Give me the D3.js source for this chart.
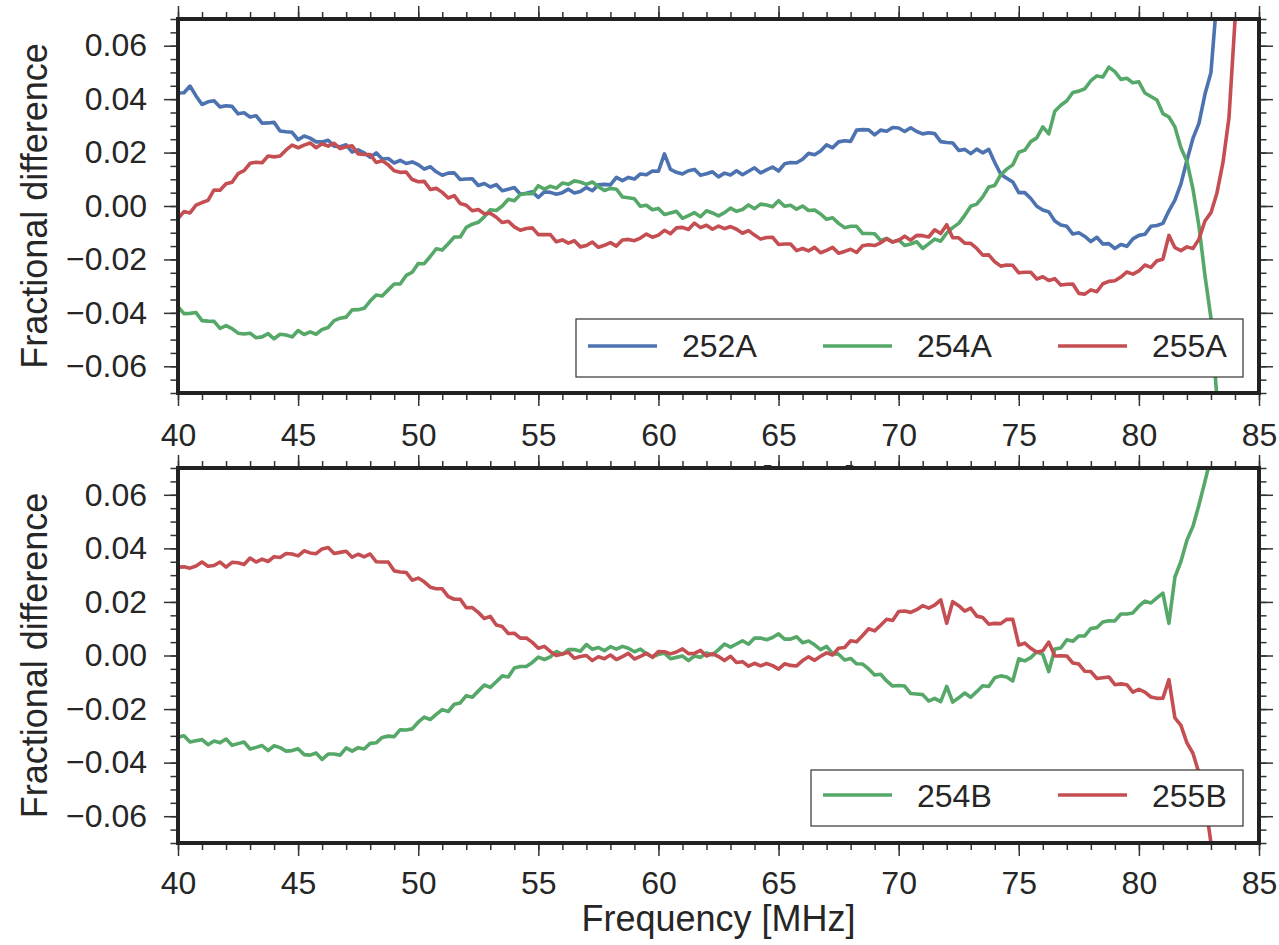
<!DOCTYPE html>
<html>
<head>
<meta charset="utf-8">
<script src="https://cdn.jsdelivr.net/npm/d3@7"></script>
<style>
  html, body { margin: 0; padding: 0; background: #fff; }
  svg { display: block; font-family: "Liberation Sans", Arial, Helvetica, sans-serif; }
</style>
</head>
<body>
<svg id="chart" width="1279" height="945"></svg>
<script>
// Frequency grid of the measurements [MHz]
const freq = [
  40,40.25,40.5,40.75,41,41.25,41.5,41.75,42,42.25,42.5,42.75,43,43.25,43.5,43.75,
  44,44.25,44.5,44.75,45,45.25,45.5,45.75,46,46.25,46.5,46.75,47,47.25,47.5,47.75,
  48,48.25,48.5,48.75,49,49.25,49.5,49.75,50,50.25,50.5,50.75,51,51.25,51.5,51.75,
  52,52.25,52.5,52.75,53,53.25,53.5,53.75,54,54.25,54.5,54.75,55,55.25,55.5,55.75,
  56,56.25,56.5,56.75,57,57.25,57.5,57.75,58,58.25,58.5,58.75,59,59.25,59.5,59.75,
  60,60.25,60.5,60.75,61,61.25,61.5,61.75,62,62.25,62.5,62.75,63,63.25,63.5,63.75,
  64,64.25,64.5,64.75,65,65.25,65.5,65.75,66,66.25,66.5,66.75,67,67.25,67.5,67.75,
  68,68.25,68.5,68.75,69,69.25,69.5,69.75,70,70.25,70.5,70.75,71,71.25,71.5,71.75,
  72,72.25,72.5,72.75,73,73.25,73.5,73.75,74,74.25,74.5,74.75,75,75.25,75.5,75.75,
  76,76.25,76.5,76.75,77,77.25,77.5,77.75,78,78.25,78.5,78.75,79,79.25,79.5,79.75,
  80,80.25,80.5,80.75,81,81.25,81.5,81.75,82,82.25,82.5,82.75,83,83.25,83.5,83.75,
  84,84.25
];

// Fractional differences, stored in units of 1e-4
const UNIT = 1e-4;

const diff252A = [
  423,424,449,412,380,390,394,371,375,373,
  345,349,333,338,310,311,313,281,278,276,
  248,262,254,240,240,246,224,222,229,202,
  210,199,182,199,176,178,161,171,159,165,
  155,138,147,128,115,123,124,99,101,102,
  77,84,71,80,57,63,69,44,48,53,
  32,53,51,44,50,63,49,54,69,57,
  79,81,79,107,95,107,101,120,117,131,
  130,195,137,126,120,132,137,115,121,128,
  109,123,116,132,117,130,143,124,135,146,
  131,158,163,162,175,197,192,206,229,218,
  240,244,242,284,286,285,266,284,280,294,
  292,279,293,279,270,274,271,241,238,236,
  208,212,196,213,199,212,163,119,104,90,
  50,50,28,-1,-15,-22,-56,-71,-76,-105,
  -100,-114,-133,-117,-142,-141,-159,-144,-151,-123,
  -110,-106,-76,-73,-65,-18,22,83,171,253,
  309,418,500,780
];

const diff254A = [
  -377,-403,-402,-399,-429,-431,-432,-458,-448,-459,
  -476,-479,-476,-493,-490,-478,-497,-480,-483,-490,
  -466,-481,-471,-480,-462,-455,-429,-420,-416,-389,
  -388,-383,-356,-333,-337,-314,-292,-292,-260,-248,
  -215,-216,-189,-160,-165,-141,-116,-116,-80,-68,
  -61,-41,-14,-17,0,25,20,43,47,46,
  76,63,74,67,86,81,94,90,81,90,
  72,58,66,63,34,31,27,-1,3,-14,
  -9,-32,-26,-20,-46,-36,-25,-40,-18,-26,
  -37,-25,-8,-20,-13,4,-10,7,4,-3,
  20,-1,3,-12,0,-17,-15,-30,-50,-44,
  -65,-81,-76,-76,-103,-103,-104,-129,-121,-135,
  -127,-148,-142,-134,-159,-142,-124,-132,-101,-81,
  -65,-35,-1,7,34,71,77,117,138,154,
  201,209,241,255,296,270,355,377,394,425,
  430,439,469,487,483,520,503,474,478,461,
  465,423,410,397,346,333,296,218,167,64,
  -75,-260,-420,-720
];

const diff255A = [
  -47,-21,-26,3,13,21,60,59,83,89,
  121,132,160,164,162,187,184,187,210,228,
  218,228,236,218,233,224,235,215,222,225,
  195,193,193,163,169,154,132,126,127,99,
  91,92,62,66,51,30,39,9,3,-18,
  -13,-29,-27,-42,-62,-57,-78,-91,-84,-82,
  -107,-107,-107,-134,-127,-139,-130,-153,-148,-135,
  -155,-147,-137,-150,-127,-125,-130,-120,-105,-117,
  -109,-91,-104,-82,-80,-88,-64,-81,-72,-87,
  -75,-85,-77,-87,-102,-92,-109,-124,-118,-117,
  -144,-142,-142,-167,-159,-168,-155,-175,-166,-155,
  -177,-170,-162,-174,-149,-145,-148,-138,-123,-135,
  -128,-113,-128,-110,-111,-116,-89,-103,-70,-119,
  -119,-139,-140,-159,-184,-183,-209,-225,-221,-222,
  -250,-248,-248,-273,-265,-279,-272,-296,-293,-292,
  -327,-330,-314,-321,-291,-282,-280,-266,-247,-255,
  -243,-221,-230,-205,-199,-110,-156,-167,-153,-159,
  -124,-56,-25,49,163,330,693,950
];

const diff254B = [
  -305,-300,-323,-318,-314,-333,-319,-326,-312,-335,
  -329,-323,-349,-343,-336,-355,-337,-344,-357,-355,
  -348,-370,-372,-364,-388,-368,-368,-372,-345,-357,
  -344,-349,-328,-326,-306,-301,-303,-277,-278,-274,
  -249,-230,-239,-220,-202,-209,-182,-177,-150,-156,
  -133,-110,-119,-98,-76,-80,-47,-41,-41,-26,
  -6,-15,-5,15,4,22,22,16,41,23,
  30,18,33,24,34,27,14,24,7,-5,
  4,9,-12,-7,-2,-19,-2,-7,10,2,
  22,43,31,43,55,42,65,65,59,67,
  81,61,61,70,48,54,40,22,34,7,
  5,-17,-11,-31,-32,-50,-73,-70,-95,-114,
  -112,-114,-142,-144,-146,-170,-160,-172,-115,-174,
  -158,-140,-156,-135,-113,-116,-83,-76,-80,-95,
  -12,-20,-8,14,4,-60,24,28,59,53,
  73,73,101,104,125,130,129,155,155,159,
  184,203,196,215,233,120,293,351,430,482,
  562,650,740
];

const diff255B = [
  330,331,326,334,349,333,336,349,330,348,
  346,340,364,349,360,351,369,366,381,379,
  372,391,383,380,398,403,381,385,389,367,
  378,368,379,350,349,349,316,312,310,281,
  289,275,255,249,249,220,210,210,178,179,
  161,138,146,114,108,82,83,65,65,49,
  27,34,15,0,6,12,-10,-4,0,-19,
  -5,-12,2,-15,-4,8,-13,-3,8,-7,
  15,14,6,13,25,7,8,19,-2,7,
  -4,-19,-3,-26,-23,-40,-29,-39,-30,-38,
  -51,-31,-37,-39,-19,-5,-18,-3,10,2,
  27,30,55,51,75,100,92,113,135,131,
  164,166,161,171,186,177,188,208,120,201,
  186,166,177,147,142,117,120,119,135,135,
  39,46,27,12,18,50,-2,-1,-2,-28,
  -32,-59,-60,-86,-83,-80,-109,-106,-109,-137,
  -126,-137,-155,-160,-159,-90,-233,-261,-326,-365,
  -439,-540,-700
];

// Series names and colours
const namesTop = ["252A", "254A", "255A"];
const namesBottom = ["254B", "255B"];
const colors = { blue: "#4c72b0", green: "#55a868", red: "#c44e52" };

// Axis ticks
const xTickValues = [40, 45, 50, 55, 60, 65, 70, 75, 80, 85];
const xTickLabels = ["40", "45", "50", "55", "60", "65", "70", "75", "80", "85"];
const yTickValues = [-0.06, -0.04, -0.02, 0, 0.02, 0.04, 0.06];
const yTickLabels = ["\u22120.06", "\u22120.04", "\u22120.02", "0.00", "0.02", "0.04", "0.06"];
const xMinorValues = d3.range(40, 85.5, 1);
const yMinorValues = d3.range(-70, 71, 5).map(v => v / 1000);

const svg = d3.select("#chart");
const plotLeft = 178, plotRight = 1259;
const x = d3.scaleLinear().domain([40, 85]).range([plotLeft, plotRight]);

const textColor = "#262626";
const tickColor = "#333";

const panels = [
  {
    id: "top", top: 19, bottom: 393, labelPad: 17, xlabelY: 492,
    series: [
      { name: namesTop[0], values: diff252A, color: colors.blue },
      { name: namesTop[1], values: diff254A, color: colors.green },
      { name: namesTop[2], values: diff255A, color: colors.red }
    ],
    legend: { x: 576, y: 319, w: 667, h: 58, lineY: 346, textY: 357, cols: [588, 823, 1058] }
  },
  {
    id: "bottom", top: 468, bottom: 843, labelPad: 15, xlabelY: 931,
    series: [
      { name: namesBottom[0], values: diff254B, color: colors.green },
      { name: namesBottom[1], values: diff255B, color: colors.red }
    ],
    legend: { x: 811, y: 770, w: 432, h: 56, lineY: 795, textY: 807, cols: [823, 1058] }
  }
];

function styleAxis(g, fontSize) {
  g.select(".domain").remove();
  g.selectAll(".tick line").attr("stroke", tickColor).attr("stroke-width", 1.5);
  g.selectAll(".tick text")
    .attr("fill", textColor)
    .style("font-size", fontSize + "px")
    .style("font-family", "'Liberation Sans', Arial, Helvetica, sans-serif");
}

panels.forEach(p => {
  const y = d3.scaleLinear().domain([-0.07, 0.07]).range([p.bottom, p.top]);
  const g = svg.append("g").attr("class", "panel-" + p.id);
  const w = plotRight - plotLeft, h = p.bottom - p.top;

  // axes background
  g.append("rect").attr("x", plotLeft).attr("y", p.top).attr("width", w).attr("height", h)
    .attr("fill", "#fff");

  const clipId = "clip-" + p.id;
  g.append("clipPath").attr("id", clipId)
    .append("rect").attr("x", plotLeft).attr("y", p.top).attr("width", w).attr("height", h);

  const line = d3.line()
    .x(d => x(d.f))
    .y(d => y(d.v));

  const lines = g.append("g").attr("clip-path", `url(#${clipId})`);
  p.series.forEach(s => {
    const pts = s.values.map((v, i) => ({ f: freq[i], v: v * UNIT }));
    lines.append("path")
      .datum(pts)
      .attr("d", line)
      .attr("fill", "none")
      .attr("stroke", s.color)
      .attr("stroke-width", 3.6)
      .attr("stroke-linejoin", "round")
      .attr("stroke-linecap", "round");
  });

  // legend
  const L = p.legend;
  const lg = g.append("g").attr("class", "legend");
  lg.append("rect").attr("x", L.x).attr("y", L.y).attr("width", L.w).attr("height", L.h)
    .attr("fill", "#fff").attr("stroke", "#333").attr("stroke-width", 1.2);
  p.series.forEach((s, i) => {
    const cx = L.cols[i];
    lg.append("line").attr("x1", cx).attr("x2", cx + 69).attr("y1", L.lineY).attr("y2", L.lineY)
      .attr("stroke", s.color).attr("stroke-width", 3.6);
    lg.append("text").attr("x", cx + 94).attr("y", L.textY)
      .attr("fill", textColor).style("font-size", "32px").text(s.name);
  });

  // ticks on all four sides, pointing outward
  const xb = g.append("g").attr("transform", `translate(0,${p.bottom})`)
    .call(d3.axisBottom(x).tickValues(xTickValues).tickSize(13).tickPadding(p.labelPad)
      .tickFormat((d, i) => xTickLabels[i]));
  styleAxis(xb, 32);
  const xbm = g.append("g").attr("transform", `translate(0,${p.bottom})`)
    .call(d3.axisBottom(x).tickValues(xMinorValues).tickSize(7).tickFormat(""));
  styleAxis(xbm, 32);
  const xt = g.append("g").attr("transform", `translate(0,${p.top})`)
    .call(d3.axisTop(x).tickValues(xTickValues).tickSize(13).tickFormat(""));
  styleAxis(xt, 32);
  const xtm = g.append("g").attr("transform", `translate(0,${p.top})`)
    .call(d3.axisTop(x).tickValues(xMinorValues).tickSize(7).tickFormat(""));
  styleAxis(xtm, 32);

  const yl = g.append("g").attr("transform", `translate(${plotLeft},0)`)
    .call(d3.axisLeft(y).tickValues(yTickValues).tickSize(14).tickPadding(17)
      .tickFormat((d, i) => yTickLabels[i]));
  styleAxis(yl, 32);
  const ylm = g.append("g").attr("transform", `translate(${plotLeft},0)`)
    .call(d3.axisLeft(y).tickValues(yMinorValues).tickSize(7.5).tickFormat(""));
  styleAxis(ylm, 32);
  const yr = g.append("g").attr("transform", `translate(${plotRight},0)`)
    .call(d3.axisRight(y).tickValues(yTickValues).tickSize(14).tickFormat(""));
  styleAxis(yr, 32);
  const yrm = g.append("g").attr("transform", `translate(${plotRight},0)`)
    .call(d3.axisRight(y).tickValues(yMinorValues).tickSize(7.5).tickFormat(""));
  styleAxis(yrm, 32);

  // frame
  g.append("rect").attr("x", plotLeft).attr("y", p.top).attr("width", w).attr("height", h)
    .attr("fill", "none").attr("stroke", "#222").attr("stroke-width", 4);

  // axis labels
  g.append("text")
    .attr("transform", `translate(47,${(p.top + p.bottom) / 2}) rotate(-90)`)
    .attr("text-anchor", "middle").attr("fill", textColor).style("font-size", "36px")
    .text("Fractional difference");
  g.append("text")
    .attr("x", (plotLeft + plotRight) / 2).attr("y", p.xlabelY)
    .attr("text-anchor", "middle").attr("fill", textColor).style("font-size", "36px")
    .text("Frequency [MHz]");
});
</script>
</body>
</html>
